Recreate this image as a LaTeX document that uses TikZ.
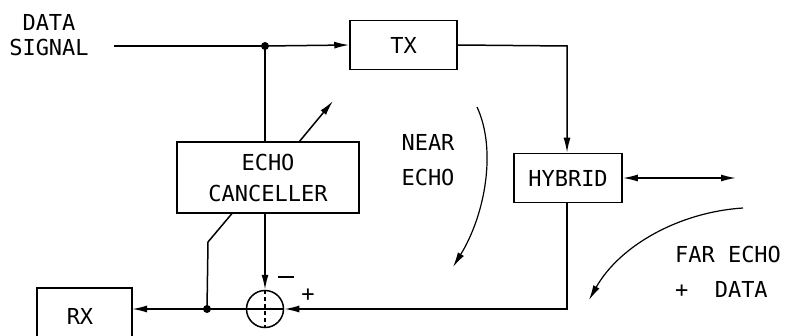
\documentclass[tikz,border=0pt]{standalone}
\usepackage{fontspec}
\setmainfont{DejaVu Sans Mono}
\usetikzlibrary{arrows.meta}
\tikzset{mytip/.tip={Latex[length=15pt,width=7pt]}}
\begin{document}
\begin{tikzpicture}[x=1pt,y=-1pt,
  line width=1.5pt,
  lbl/.style={font=\fontsize{22}{25}\selectfont, inner sep=0pt, align=center},
  blk/.style={draw, line width=1.5pt, inner sep=0pt, font=\fontsize{22}{25}\selectfont, align=center},
  arr/.style={-{mytip}},
  dot/.style={circle, fill, inner sep=0pt, minimum size=8pt}
]
\useasboundingbox (0,0) rectangle (791,336);
% labels
\node[lbl, align=left] (ds) at (49,35) {\ DATA\\SIGNAL};
% blocks
\node[blk, minimum width=107pt, minimum height=49pt] (tx) at (403.5,45) {TX};
\node[blk, minimum width=108pt, minimum height=49pt] (hy) at (568,178) {HYBRID};
\node[blk, minimum width=182pt, minimum height=71pt, text depth=0pt] (ec) at (268,177.5) {ECHO\\[6pt]CANCELLER};
\node[lbl] (rxt) at (80,316) {RX};
\coordinate (rxtl) at (37,288);
\coordinate (rxtr) at (132,288);
\coordinate (rxr) at (132,309);
\node[draw, circle, minimum size=37pt, inner sep=0pt] (sum) at (265,309) {};
% coordinates
\coordinate (in) at (114,46);
\node[dot] (j1) at (265,46) {};
\coordinate (c1) at (567,46);
\coordinate (c2) at (567,309);
\coordinate (hout) at (736,178);
\node[dot] (j2) at (207,309) {};
\coordinate (d1) at (232,213.5);
\coordinate (d2) at (208,242);
\coordinate (a1) at (299,142);
\coordinate (a2) at (333,101);
% RX box (open at bottom)
\draw (37,340) -- (rxtl) -- (rxtr) -- (132,340);
% connectors
\draw (in) -- (j1.center);
\draw[arr] (j1.center) -- (tx.west);
\draw[arr] (tx.east) -- (c1) -- (hy.north -| c1);
\draw[{mytip}-{mytip}] (hy.east) -- (hout);
\draw (j1.center) -- (ec.north -| j1);
\draw[arr] (a1) -- (a2);
\draw[arr] (ec.south -| sum) -- (sum.north);
\draw[arr] (hy.south -| c2) -- (c2) -- (sum.east);
\draw[arr] (sum.west) -- (rxr);
\draw (d1) -- (d2) -- (j2.center);
% cross in sum
\draw (sum.west) -- (sum.east);
\draw[line width=1.1pt, dash pattern=on 4pt off 3pt] (sum.north) -- (sum.south);
\draw (278,277) -- (294,277);
\node[lbl] (plus) at (308,295) {+};
% echo arcs
\coordinate (n1) at (477,107);
\coordinate (n2) at (453,267);
\draw[arr, line width=1.2pt] (n1) .. controls (497,150) and (485,215) .. (n2);
\node[lbl] (ne) at (428,160) {NEAR\\[10pt]ECHO};
\coordinate (f1) at (743,208);
\coordinate (f2) at (589,300);
\draw[arr, line width=1.2pt] (f1) .. controls (680,212) and (620,245) .. (f2);
\node[lbl, align=left] (fe) at (728,272) {FAR ECHO\\[10pt]+\ \ DATA};
\end{tikzpicture}
\end{document}
